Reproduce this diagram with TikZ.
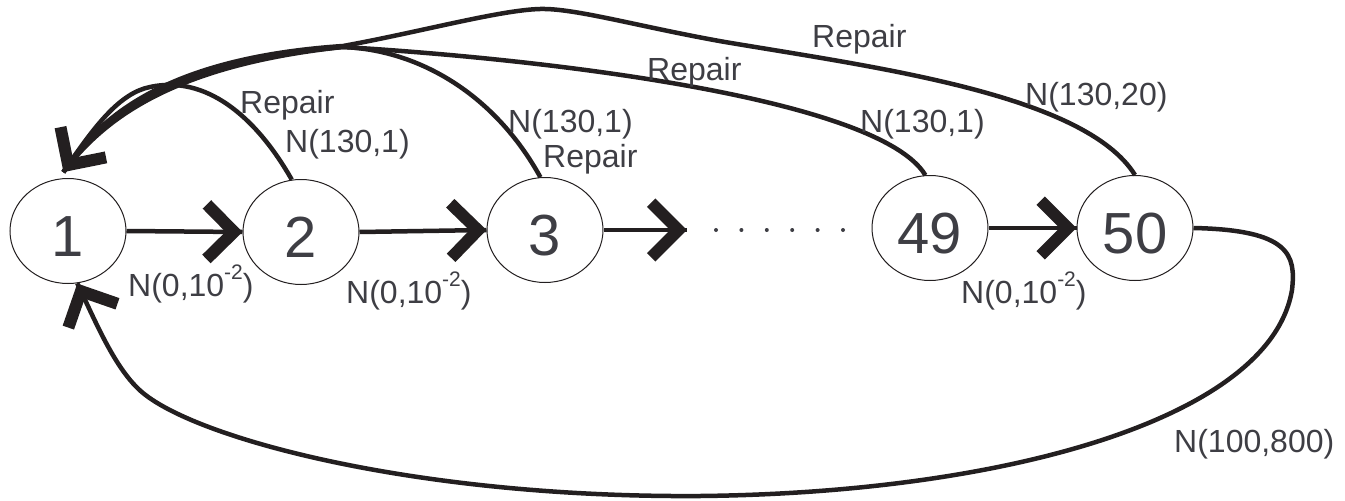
\documentclass[tikz,border=0pt]{standalone}
\usepackage{fontspec}
\setmainfont{Liberation Sans}
\usetikzlibrary{shapes.geometric,decorations.markings,calc}
\definecolor{ink}{RGB}{35,31,32}
\definecolor{txt}{RGB}{62,62,68}
\tikzset{
  stnode/.style={ellipse, draw=ink, line width=1pt, minimum width=116pt,
    minimum height=105pt, inner sep=0pt, text=txt,
    font=\fontsize{58}{58}\selectfont, text height=50pt, text depth=0pt},
  lab/.style={anchor=base west, inner sep=0pt, text=txt,
    font=\fontsize{32}{38}\selectfont},
  conn/.style={draw=ink, line width=4.5pt},
  chev/.style={postaction={decorate}, decoration={markings,
    mark=at position 0.9999 with {\draw[ink, line width=12pt, line cap=butt,
      line join=miter] (-35.8pt,27.3pt) -- (-8.5pt,0pt) -- (-35.8pt,-27.3pt);}}},
}
\newcommand\supm[1]{\raisebox{17pt}{\fontsize{21}{21}\selectfont #1}}
\begin{document}
\begin{tikzpicture}[x=1pt,y=-1pt]
\useasboundingbox (0,0) rectangle (1345,501);

% states
\node[stnode] (n1)  at (68,231)  {1};
\node[stnode] (n2)  at (301,232) {2};
\node[stnode] (n3)  at (545,230) {3};
\node[stnode] (n49) at (930,228) {49};
\node[stnode] (n50) at (1135,228) {50};
\coordinate (d1) at (687,230);
\coordinate (r1) at ($(n1.95)+(0,-6)$);

% forward transitions
\draw[conn,chev] (n1.east) -- (n2.west);
\draw[conn,chev] (n2.east) -- (n3.west);
\draw[conn,chev] (n3.east) -- (d1);
\foreach \k in {0,...,5} \fill[txt] (716+25.4*\k,230) circle (2pt);
\draw[conn,chev] (n49.east) -- (n50.west);

% repair transitions back to state 1
\draw[conn] (n2.100) .. controls (255,115) and (205,75) .. (150,87)
  .. controls (120,93) and (95,125) .. (r1);
\draw[conn] (n3.95) .. controls (495,95) and (420,50) .. (343,47)
  .. controls (165,66) and (100,124) .. (r1);
\draw[conn,chev] (n49.95) .. controls (880,100) and (560,60) .. (343,47)
  .. controls (165,62) and (98,120) .. (r1);
\draw[conn] (n50.north) .. controls (1085,95) and (880,68) .. (725,42)
  .. controls (640,27) and (575,8) .. (540,9)
  .. controls (500,10) and (420,32) .. (343,46)
  .. controls (165,58) and (98,118) .. (r1);

% long return from state 50
\draw[conn,chev] (n50.east) .. controls (1290,230) and (1296,255) .. (1292,290)
  .. controls (1270,420) and (1000,493) .. (700,496)
  .. controls (420,498) and (200,440) .. (143,393)
  .. controls (115,370) and (95,320) .. (n1.-80);

% labels
\node[lab] (l1)  at (240,113)  {Repair};
\node[lab] (l2)  at (285,152)  {N(130,1)};
\node[lab] (l3)  at (508,132)  {N(130,1)};
\node[lab] (l4)  at (543,167)  {Repair};
\node[lab] (l5)  at (647,80)   {Repair};
\node[lab] (l6)  at (812,47)   {Repair};
\node[lab] (l7)  at (860,132)  {N(130,1)};
\node[lab] (l8)  at (1025,105) {N(130,20)};
\node[lab] (l9)  at (128,296)  {N(0,10\supm{-2})};
\node[lab] (l10) at (346,303)  {N(0,10\supm{-2})};
\node[lab] (l11) at (961,303)  {N(0,10\supm{-2})};
\node[lab] (l12) at (1174,452) {N(100,800)};
\end{tikzpicture}
\end{document}
